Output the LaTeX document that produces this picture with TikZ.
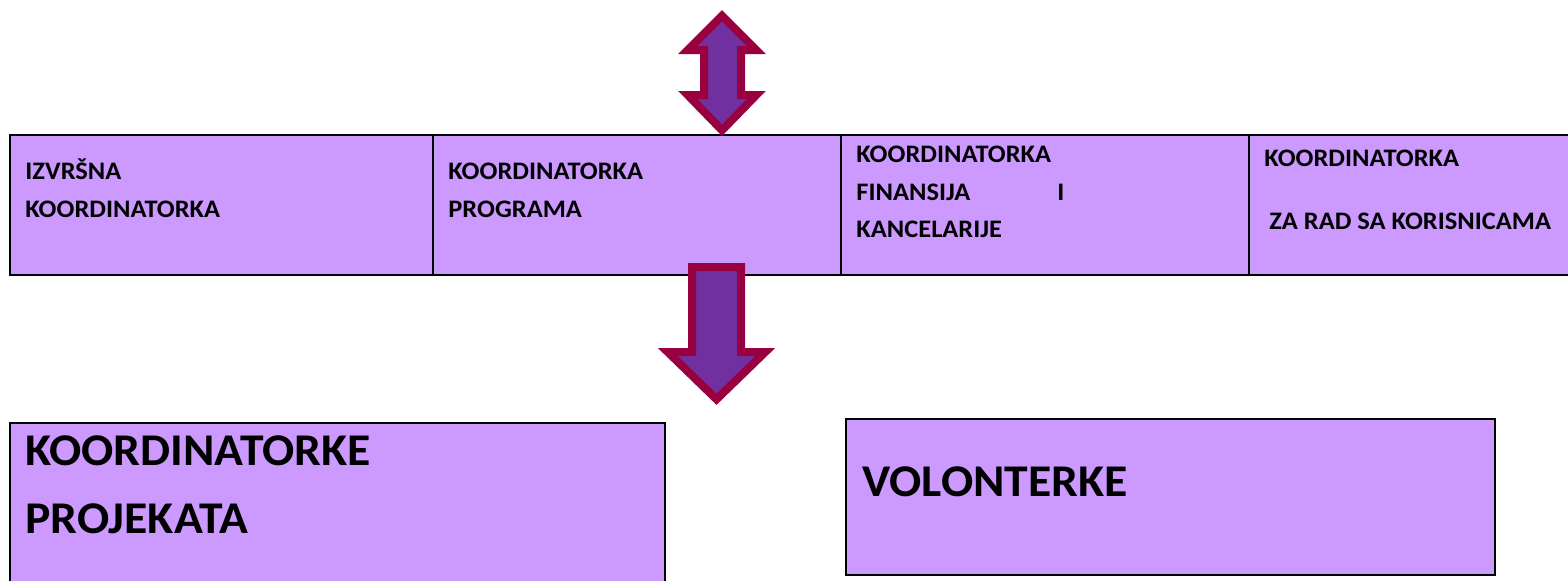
\documentclass[tikz,border=0pt]{standalone}
\usepackage{fontspec}
\newfontfamily\calfont[FakeStretch=1.05]{Carlito}
\definecolor{boxfill}{HTML}{CC99FF}
\definecolor{arrfill}{HTML}{7030A0}
\definecolor{arrline}{HTML}{990040}
\begin{document}
\begin{tikzpicture}[x=0.5pt,y=-0.5pt,
  cell/.style={draw=black,fill=boxfill,line width=1pt},
  small/.style={anchor=base west,inner sep=0pt,font=\calfont\bfseries\fontsize{12.6pt}{15pt}\selectfont},
  big/.style={anchor=base west,inner sep=0pt,font=\calfont\bfseries\fontsize{22.7pt}{27pt}\selectfont},
  blockarrow/.style={draw=arrline,fill=arrfill,line width=4pt,miter limit=10}]
\useasboundingbox (0,0) rectangle (1568,580);
\clip (0,0) rectangle (1568,580);
% top row
\draw[cell] (10,135) rectangle (433,275);
\draw[cell] (433,135) rectangle (841,275);
\draw[cell] (841,135) rectangle (1249,275);
\draw[cell] (1249,135) rectangle (1600,275);
% bottom boxes
\draw[cell] (10,423) rectangle (665,600);
\draw[cell] (846,419) rectangle (1495,575);
% texts
\node[small] (t1a) at (25,179) {IZVRŠNA};
\node[small] (t1b) at (25,217) {KOORDINATORKA};
\node[small] (t2a) at (448,179) {KOORDINATORKA};
\node[small] (t2b) at (448,217) {PROGRAMA};
\node[small] (t3a) at (856,162) {KOORDINATORKA};
\node[small] (t3b) at (856,200) {FINANSIJA};
\node[small] (t3c) at (1057,200) {I};
\node[small] (t3d) at (856,237) {KANCELARIJE};
\node[small] (t4a) at (1264,166) {KOORDINATORKA};
\node[small] (t4b) at (1269,229) {ZA RAD SA KORISNICAMA};
\node[big] (t5a) at (25,465) {KOORDINATORKE};
\node[big] (t5b) at (25,533) {PROJEKATA};
\node[big] (t6) at (862,496) {VOLONTERKE};
% up-down block arrow
\draw[blockarrow] (722,15.7) -- (756.3,50) -- (741,50) -- (741,95) -- (756.3,95)
  -- (722,130.3) -- (687.7,95) -- (704,95) -- (704,50) -- (687.7,50) -- cycle;
% down block arrow
\draw[blockarrow] (692,267) -- (741,267) -- (741,352) -- (765.3,352) -- (716.5,399.3)
  -- (667.7,352) -- (692,352) -- cycle;
\end{tikzpicture}
\end{document}
